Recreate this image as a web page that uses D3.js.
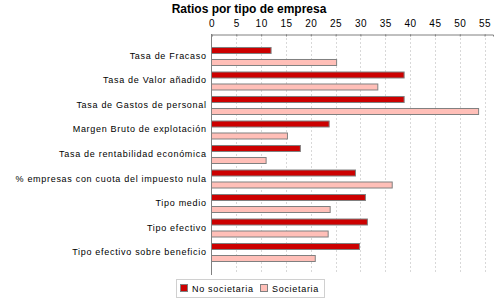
<!DOCTYPE html>
<html>
<head>
<meta charset="utf-8">
<script src="https://cdn.jsdelivr.net/npm/d3@7"></script>
<style>
  body { margin: 0; background: #fff; }
  svg { display: block; }
  text { font-family: "Liberation Sans", Arial, sans-serif; fill: #000; }
</style>
</head>
<body>
<div id="chart"></div>
<script>
// datos
var categories = [
  'Tasa de Fracaso',
  'Tasa de Valor añadido',
  'Tasa de Gastos de personal',
  'Margen Bruto de explotación',
  'Tasa de rentabilidad económica',
  '% empresas con cuota del impuesto nula',
  'Tipo medio',
  'Tipo efectivo',
  'Tipo efectivo sobre beneficio'
];
var seriesNames = ['No societaria', 'Societaria'];
var noSocietaria = [12.0, 38.8, 38.8, 23.7, 17.9, 29.0, 31.0, 31.4, 29.8];
var societaria = [25.2, 33.5, 53.8, 15.3, 11.0, 36.4, 23.9, 23.5, 20.9];
var tickValues = [0, 5, 10, 15, 20, 25, 30, 35, 40, 45, 50, 55];

var width = 500, height = 300;
var colors = ['#cc0000', '#ffbfb8'];

var rows = categories.map(function(c, i) {
  return { name: c, values: [noSocietaria[i], societaria[i]] };
});

var svg = d3.select('#chart').append('svg')
    .attr('width', width)
    .attr('height', height);

// titulo
svg.append('text')
    .attr('x', 249)
    .attr('y', 13)
    .attr('text-anchor', 'middle')
    .style('font-weight', 'bold')
    .style('font-size', '12px')
    .text('Ratios por tipo de empresa');

var x = d3.scaleLinear().domain([0, 56.7]).range([211.5, 493]);
var y = d3.scaleBand().domain(categories).range([34, 274])
    .paddingInner(0.265).paddingOuter(0.53);
var ySub = d3.scaleBand().domain(seriesNames).range([0, y.bandwidth()])
    .paddingInner(0.5);

// rejilla
svg.append('g').selectAll('line')
    .data(tickValues.filter(function(d) { return d > 0; }))
    .enter().append('line')
    .attr('x1', function(d) { return Math.round(x(d)) + 0.5; })
    .attr('x2', function(d) { return Math.round(x(d)) + 0.5; })
    .attr('y1', 34).attr('y2', 274)
    .attr('stroke', '#d8d8d8')
    .attr('stroke-dasharray', '2,2');

// eje superior
var xAxis = svg.append('g')
    .attr('transform', 'translate(0,34.5)')
    .call(d3.axisTop(x).tickValues(tickValues).tickSize(-2).tickPadding(8));
xAxis.select('.domain').attr('stroke', '#808080');
xAxis.selectAll('.tick line').attr('stroke', '#808080');
xAxis.selectAll('.tick text')
    .style('font-size', '10px')
    .style('font-family', '"Liberation Sans", Arial, sans-serif')
    .style('letter-spacing', '0.5px')
    .attr('fill', '#000');

// eje de categorias
svg.append('line')
    .attr('x1', 211.5).attr('x2', 211.5)
    .attr('y1', 34).attr('y2', 275)
    .attr('stroke', '#808080');

svg.append('g').selectAll('text')
    .data(categories)
    .enter().append('text')
    .attr('x', 206.7)
    .attr('y', function(d) { return y(d) + y.bandwidth() / 2 + 3; })
    .attr('text-anchor', 'end')
    .style('font-size', '9px')
    .style('letter-spacing', '0.7px')
    .text(function(d) { return d; });

// barras
var groups = svg.append('g').selectAll('g')
    .data(rows)
    .enter().append('g')
    .attr('transform', function(d) { return 'translate(0,' + y(d.name) + ')'; });

groups.selectAll('rect')
    .data(function(d) {
      return d.values.map(function(v, i) { return { serie: seriesNames[i], value: v, idx: i }; });
    })
    .enter().append('rect')
    .attr('x', x(0))
    .attr('y', function(d) { return Math.round(ySub(d.serie)) + 0.5; })
    .attr('width', function(d) { return x(d.value) - x(0); })
    .attr('height', ySub.bandwidth())
    .attr('fill', function(d) { return colors[d.idx]; })
    .attr('stroke', '#808080');

// leyenda
var legend = svg.append('g');
legend.append('rect')
    .attr('x', 176.5).attr('y', 279.5)
    .attr('width', 148).attr('height', 18)
    .attr('fill', '#fff')
    .attr('stroke', '#d0d0d0');
var legendX = [180, 260];
var items = legend.selectAll('g.item')
    .data(seriesNames)
    .enter().append('g')
    .attr('class', 'item')
    .attr('transform', function(d, i) { return 'translate(' + legendX[i] + ',0)'; });
items.append('rect')
    .attr('x', 0.5).attr('y', 284.5)
    .attr('width', 7).attr('height', 7)
    .attr('fill', function(d, i) { return colors[i]; })
    .attr('stroke', '#808080');
items.append('text')
    .attr('x', 12)
    .attr('y', 292)
    .style('font-size', '9px')
    .style('letter-spacing', '0.7px')
    .text(function(d) { return d; });
</script>
</body>
</html>
